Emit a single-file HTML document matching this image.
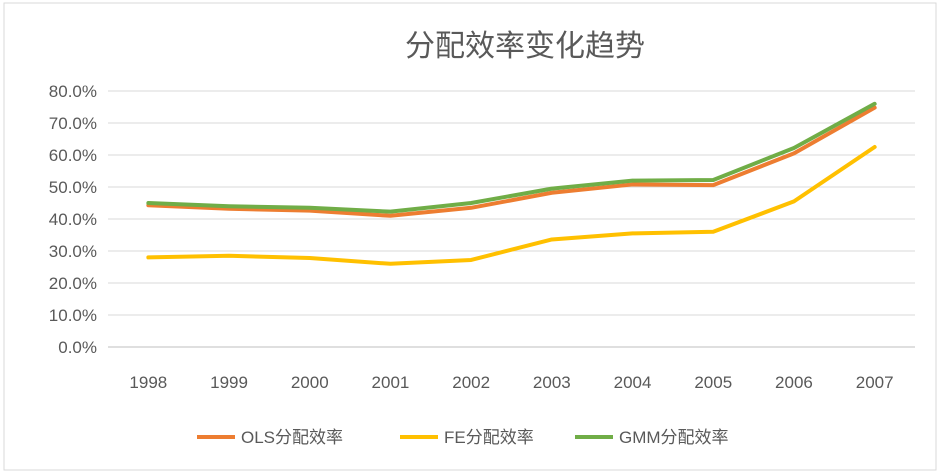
<!DOCTYPE html>
<html><head><meta charset="utf-8"><style>
body{margin:0;background:#fff;}
svg{display:block;font-family:"Liberation Sans","Noto Sans CJK SC",sans-serif;}
</style></head><body>
<svg id="chart" width="940" height="474">
<rect x="4" y="3" width="932" height="467" fill="#fff" stroke="#d9d9d9"/>
<text x="525" y="56" text-anchor="middle" font-size="30" fill="#595959">分配效率变化趋势</text>
<g id="grid"></g><g id="series"></g><g id="legend"></g>
</svg>
<script>
const years=["1998","1999","2000","2001","2002","2003","2004","2005","2006","2007"];
const olsValues=[44.3,43.2,42.6,41.0,43.5,48.2,50.8,50.6,60.5,74.8];
const feValues=[28.0,28.5,27.8,26.0,27.2,33.6,35.5,36.0,45.5,62.5];
const gmmValues=[45.0,44.0,43.5,42.3,45.0,49.5,52.0,52.2,62.2,76.0];
const yTicks=[0,10,20,30,40,50,60,70,80];
const seriesNames=["OLS分配效率","FE分配效率","GMM分配效率"];
const NS="http://www.w3.org/2000/svg";
const x0=108,x1=915,y0=347,yTop=91;
const yScale=v=>y0-(v/80)*(y0-yTop);
const step=(x1-x0)/years.length;
const xScale=i=>x0+step*(i+0.5);
function mk(tag,attrs,parent,text){const e=document.createElementNS(NS,tag);for(const k in attrs)e.setAttribute(k,attrs[k]);if(text!==undefined)e.textContent=text;parent.appendChild(e);return e;}
const grid=document.getElementById('grid');
yTicks.forEach(t=>{
  const l=mk('line',{x1:x0,x2:x1,y1:yScale(t),y2:yScale(t),stroke:t===0?'#bfbfbf':'#d9d9d9','stroke-width':1},grid);
  
  
  const tx=mk('text',{x:97,y:yScale(t)+6,'text-anchor':'end','font-size':17,fill:'#595959'},grid,t.toFixed(1)+'%');
  
  
});
years.forEach((y,i)=>{
  const tx=mk('text',{x:xScale(i),y:388,'text-anchor':'middle','font-size':17,fill:'#595959'},grid,y);
  
  
});
const ser=document.getElementById('series');
const all=[[olsValues,'#ed7d31','ols-line'],[feValues,'#ffc000','fe-line'],[gmmValues,'#70ad47','gmm-line']];
all.forEach(([vals,c,n])=>{
  const p=mk('polyline',{points:vals.map((v,i)=>xScale(i)+','+yScale(v)).join(' '),fill:'none',stroke:c,'stroke-width':4,'stroke-linejoin':'round','stroke-linecap':'round'},ser);
  
  
});
const leg=document.getElementById('legend');
const lx=[197,400,575];
seriesNames.forEach((s,i)=>{
  const l=mk('line',{x1:lx[i],x2:lx[i]+38,y1:437,y2:437,stroke:all[i][1],'stroke-width':4},leg);
  
  
  const t=mk('text',{x:lx[i]+44,y:443,'font-size':17,fill:'#595959'},leg,s);
  
  
});
</script>
</body></html>
